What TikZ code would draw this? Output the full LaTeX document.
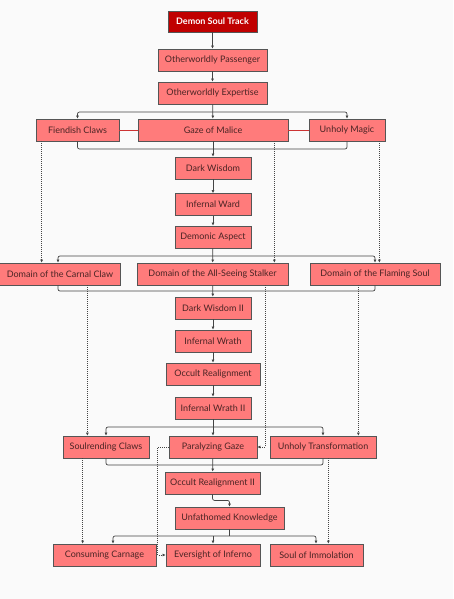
\documentclass[tikz,border=0pt]{standalone}
\usepackage{fontspec}
\setmainfont{Lato}
\usetikzlibrary{arrows.meta}
\definecolor{bg}{HTML}{FAFAFA}
\definecolor{boxfill}{HTML}{FF7B7B}
\definecolor{boxline}{HTML}{555555}
\definecolor{titlefill}{HTML}{C00000}
\definecolor{txt}{HTML}{4A2424}
\definecolor{conn}{HTML}{444444}
\definecolor{redlink}{HTML}{CC3333}
\tikzset{
  box/.style={draw=boxline, line width=0.8pt, fill=boxfill, minimum height=22pt, inner sep=0pt, text=txt, font=\fontsize{9}{11}\selectfont},
  titlebox/.style={box, fill=titlefill, text=white, font=\fontsize{9}{11}\selectfont\bfseries, minimum height=21pt},
  arr/.style={draw=conn, line width=0.7pt, -{Latex[length=3pt,width=3pt]}},
  twoarr/.style={draw=conn, line width=0.7pt, rounded corners=2pt, {Latex[length=3pt,width=3pt]}-{Latex[length=3pt,width=3pt]}},
  merge/.style={draw=conn, line width=0.7pt, rounded corners=2pt},
  dotarr/.style={draw=conn, line width=0.6pt, dash pattern=on 0.8pt off 1.2pt, -{Latex[length=3pt,width=3pt]}},
  redline/.style={draw=redlink, line width=1pt}
}
\begin{document}
\begin{tikzpicture}[x=1pt,y=-1pt]
\fill[bg] (0,0) rectangle (453,599);
\useasboundingbox (0,0) rectangle (453,599);

\node[titlebox, minimum width=89pt] (title) at (212.5,21.5) {Demon Soul Track};
\node[box, minimum width=109pt] (op) at (212.5,60) {Otherworldly Passenger};
\node[box, minimum width=109pt] (oe) at (212.5,93) {Otherworldly Expertise};
\node[box, minimum width=83pt] (fc) at (77.5,130) {Fiendish Claws};
\node[box, minimum width=150pt] (gm) at (213,130) {Gaze of Malice};
\node[box, minimum width=76pt] (um) at (347,130) {Unholy Magic};
\node[box, minimum width=76pt] (dw) at (213,168) {Dark Wisdom};
\node[box, minimum width=76pt] (iw) at (213,204.5) {Infernal Ward};
\node[box, minimum width=76pt] (da) at (213,237) {Demonic Aspect};
\node[box, minimum width=124pt] (dcc) at (58,274) {\hspace*{4pt}Domain of the Carnal Claw};
\node[box, minimum width=151pt] (das) at (212.5,274) {Domain of the All-Seeing Stalker};
\node[box, minimum width=130pt] (dfs) at (375,274) {Domain of the Flaming Soul};
\node[box, minimum width=76pt] (dw2) at (213,308) {Dark Wisdom II};
\node[box, minimum width=76pt] (iwr) at (213,341) {Infernal Wrath};
\node[box, minimum width=94pt] (or) at (213,374) {Occult Realignment};
\node[box, minimum width=76pt] (iw2) at (213,408) {Infernal Wrath II};
\node[box, minimum width=86pt] (sc) at (106,447) {Soulrending Claws};
\node[box, minimum width=88pt] (pg) at (213,447) {Paralyzing Gaze};
\node[box, minimum width=106pt] (ut) at (323,447) {Unholy Transformation};
\node[box, minimum width=95pt] (or2) at (212.5,483) {Occult Realignment II};
\node[box, minimum width=109pt] (uk) at (229.5,518) {Unfathomed Knowledge};
\node[box, minimum width=103pt] (cc) at (104.5,555) {Consuming Carnage};
\node[box, minimum width=94pt] (ei) at (213,555) {Eversight of Inferno};
\node[box, minimum width=93pt] (si) at (316.5,555) {Soul of Immolation};

\coordinate (b1) at (212.5,112);
\coordinate (m1) at (212.5,149);
\coordinate (b2) at (212.5,256);
\coordinate (m2) at (212.5,291);
\coordinate (b3) at (212.5,427);
\coordinate (m3) at (212.5,465);
\coordinate (b4) at (229.5,536);

% main chain
\draw[arr] (title) -- (op);
\draw[arr] (op) -- (oe);
\draw[arr] (oe) -- (gm);
\draw[twoarr] (fc.north) |- (b1) -| (um.north);
\draw[redline] (fc.east) -- (gm.west);
\draw[redline] (gm.east) -- (um.west);
\draw[merge] (fc.south) |- (m1) -| (um.south);
\draw[arr] (gm) -- (dw);
\draw[arr] (dw) -- (iw);
\draw[arr] (iw) -- (da);
\draw[arr] (da) -- (das);
\draw[twoarr] (dcc.north) |- (b2) -| (dfs.north);
\draw[merge] (dcc.south) |- (m2) -| (dfs.south);
\draw[arr] (das) -- (dw2);
\draw[arr] (dw2) -- (iwr);
\draw[arr] (iwr) -- (or);
\draw[arr] (or) -- (iw2);
\draw[arr] (iw2) -- (pg);
\draw[twoarr] (sc.north) |- (b3) -| (ut.north);
\draw[merge] (sc.south) |- (m3) -| (ut.south);
\draw[arr] (pg) -- (or2);
\draw[arr, rounded corners=2pt] (or2.south) -- ++(0,6) -| (uk.north);
\draw[merge] (uk.south) -- (b4);
\draw[arr] (b4 -| ei.north) -- (ei.north);
\draw[twoarr] ([xshift=8.5pt]cc.north) |- (b4) -| ([xshift=-0.5pt]si.north);

% dotted links
\draw[dotarr] ([xshift=6pt]fc.south west) -- ([xshift=6pt]fc.south west |- dcc.north);
\draw[dotarr] ([xshift=-14pt]gm.south east) -- ([xshift=-14pt]gm.south east |- das.north);
\draw[dotarr] ([xshift=-6pt]um.south east) -- ([xshift=-6pt]um.south east |- dfs.north);
\draw[dotarr] ([xshift=-33pt]dcc.south east) -- ([xshift=-33pt]dcc.south east |- sc.north);
\draw[dotarr] ([xshift=-23pt]das.south east) |- (pg.east);
\draw[dotarr] ([xshift=-82pt]dfs.south east) -- ([xshift=-82pt]dfs.south east |- ut.north);
\draw[dotarr] ([xshift=20pt]sc.south west) -- ([xshift=20pt]sc.south west |- cc.north);
\draw[dotarr] (pg.west) -- ++(-11,0) |- (ei.west);
\draw[dotarr] ([xshift=-48pt]ut.south east) -- ([xshift=-48pt]ut.south east |- si.north);
\end{tikzpicture}
\end{document}
